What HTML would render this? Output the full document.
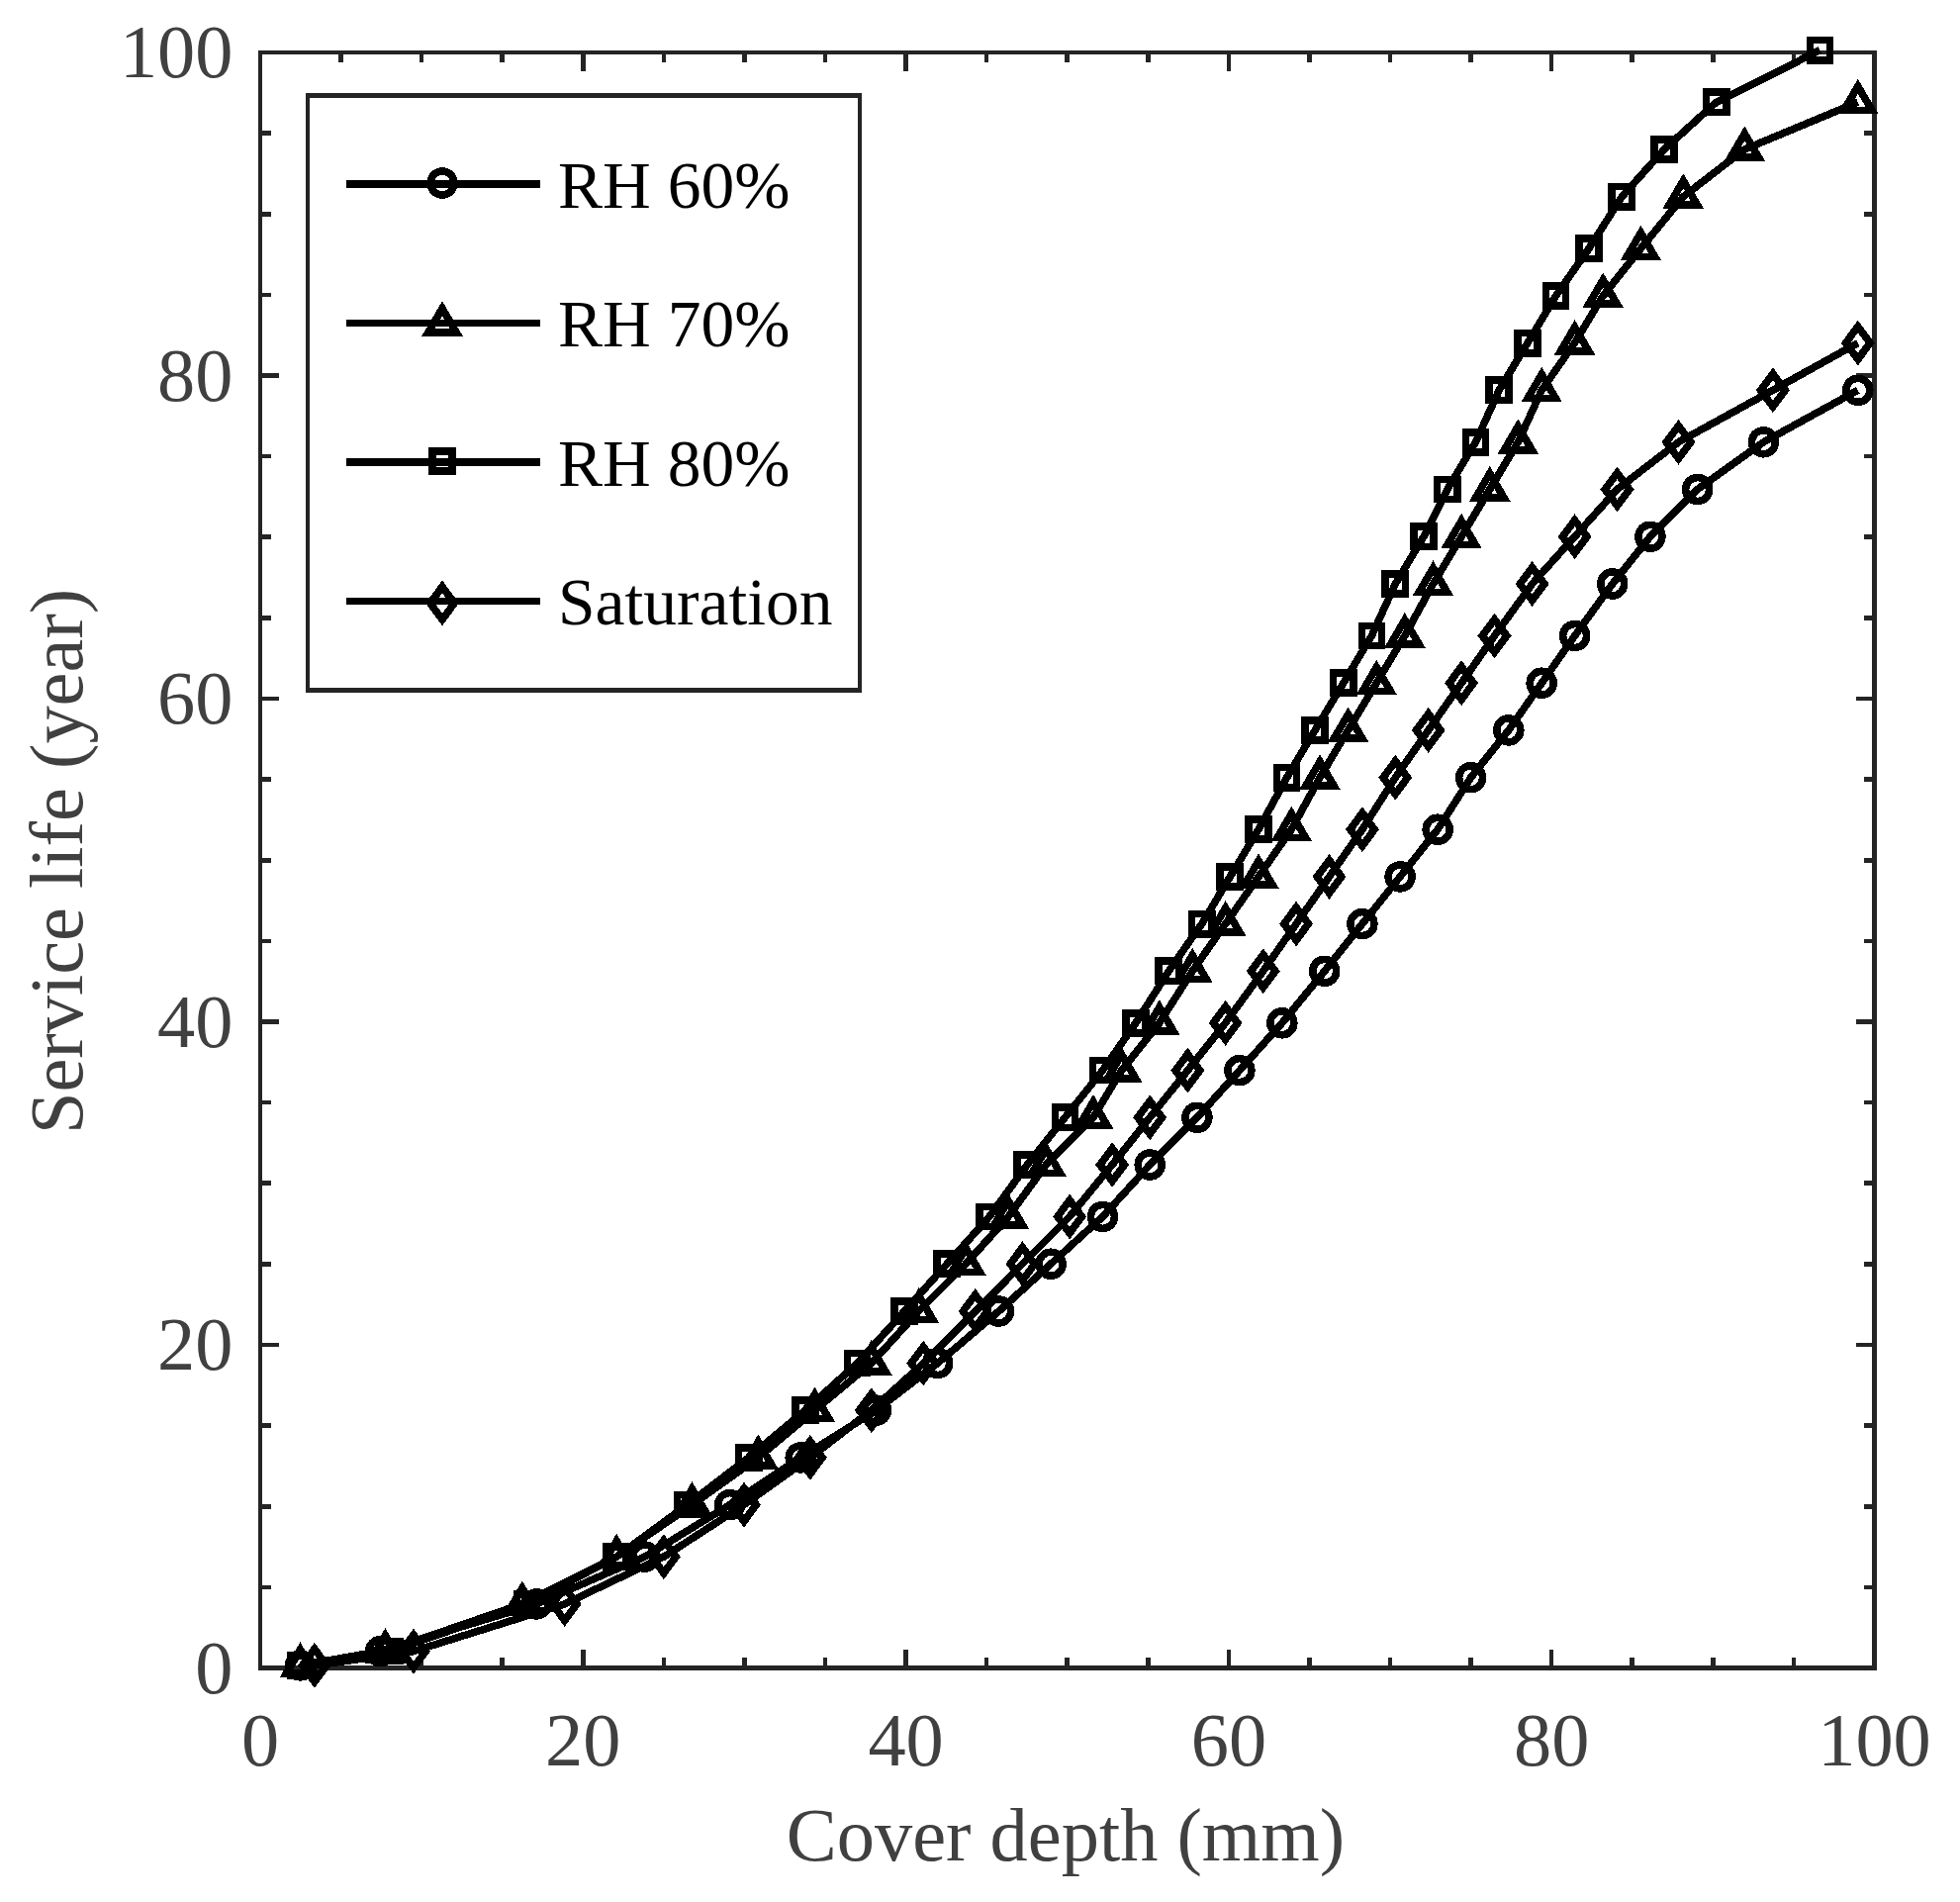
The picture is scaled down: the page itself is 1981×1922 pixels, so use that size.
<!DOCTYPE html>
<html lang="en">
<head>
<meta charset="utf-8">
<title>Service life versus cover depth</title>
<style>
html,body{margin:0;padding:0;background:#fff;}
body{width:1981px;height:1922px;overflow:hidden;}
svg{display:block;}
text{font-family:"Liberation Serif","Times New Roman",Times,serif;}
.tick{font-size:76.4px;fill:#404040;}
.leg{font-size:67.5px;fill:#000;}
</style>
</head>
<body>
<svg width="1981" height="1922" viewBox="0 0 1981 1922">
<rect x="0" y="0" width="1981" height="1922" fill="#ffffff"/>
<path id="axes" shape-rendering="crispEdges" fill="#242424" d="M261 51H265V1688H261ZM1892 51H1897V1688H1892ZM261 51H1897V55H261ZM261 1683H1897V1688H261ZM342 1675H347V1683H342ZM342 55H347V63H342ZM265 1602H274V1606H265ZM1884 1602H1892V1606H1884ZM424 1675H428V1683H424ZM424 55H428V63H424ZM265 1520H274V1525H265ZM1884 1520H1892V1525H1884ZM505 1675H510V1683H505ZM505 55H510V63H505ZM265 1438H274V1443H265ZM1884 1438H1892V1443H1884ZM587 1667H592V1683H587ZM587 55H592V72H587ZM265 1357H282V1361H265ZM1876 1357H1892V1361H1876ZM669 1675H673V1683H669ZM669 55H673V63H669ZM265 1275H274V1280H265ZM1884 1275H1892V1280H1884ZM750 1675H755V1683H750ZM750 55H755V63H750ZM265 1193H274V1198H265ZM1884 1193H1892V1198H1884ZM832 1675H836V1683H832ZM832 55H836V63H832ZM265 1112H274V1116H265ZM1884 1112H1892V1116H1884ZM913 1667H918V1683H913ZM913 55H918V72H913ZM265 1030H282V1035H265ZM1876 1030H1892V1035H1876ZM995 1675H999V1683H995ZM995 55H999V63H995ZM265 949H274V953H265ZM1884 949H1892V953H1884ZM1076 1675H1081V1683H1076ZM1076 55H1081V63H1076ZM265 867H274V872H265ZM1884 867H1892V872H1884ZM1158 1675H1163V1683H1158ZM1158 55H1163V63H1158ZM265 785H274V790H265ZM1884 785H1892V790H1884ZM1240 1667H1244V1683H1240ZM1240 55H1244V72H1240ZM265 704H282V708H265ZM1876 704H1892V708H1876ZM1321 1675H1326V1683H1321ZM1321 55H1326V63H1321ZM265 622H274V627H265ZM1884 622H1892V627H1884ZM1403 1675H1407V1683H1403ZM1403 55H1407V63H1403ZM265 540H274V545H265ZM1884 540H1892V545H1884ZM1484 1675H1489V1683H1484ZM1484 55H1489V63H1484ZM265 459H274V463H265ZM1884 459H1892V463H1884ZM1566 1667H1570V1683H1566ZM1566 55H1570V72H1566ZM265 377H282V382H265ZM1876 377H1892V382H1876ZM1647 1675H1652V1683H1647ZM1647 55H1652V63H1647ZM265 296H274V300H265ZM1884 296H1892V300H1884ZM1729 1675H1734V1683H1729ZM1729 55H1734V63H1729ZM265 214H274V219H265ZM1884 214H1892V219H1884ZM1811 1675H1815V1683H1811ZM1811 55H1815V63H1811ZM265 132H274V137H265ZM1884 132H1892V137H1884Z"/>
<g class="tick">
<text x="263" y="1784" text-anchor="middle">0</text>
<text x="589.3" y="1784" text-anchor="middle">20</text>
<text x="915.6" y="1784" text-anchor="middle">40</text>
<text x="1241.9" y="1784" text-anchor="middle">60</text>
<text x="1568.2" y="1784" text-anchor="middle">80</text>
<text x="1894.5" y="1784" text-anchor="middle">100</text>
<text x="235.5" y="1710.7" text-anchor="end">0</text>
<text x="235.5" y="1384.2" text-anchor="end">20</text>
<text x="235.5" y="1057.7" text-anchor="end">40</text>
<text x="235.5" y="731.2" text-anchor="end">60</text>
<text x="235.5" y="404.7" text-anchor="end">80</text>
<text x="235.5" y="78.2" text-anchor="end">100</text>
<text x="1077" y="1879.6" text-anchor="middle">Cover depth (mm)</text>
<text transform="translate(82.5 870.4) rotate(-90)" text-anchor="middle">Service life (year)</text>
</g>
<g id="data" shape-rendering="crispEdges" fill="none" stroke="#000" stroke-width="7.6" stroke-linejoin="miter" stroke-miterlimit="10">
<g id="rh60">
<polyline points="303.5,1682.9 384.6,1668.6 542.1,1620.9 651.8,1573.1 737.7,1520.6 809.2,1472.9 885.5,1425.2 947.6,1377.5 1009.6,1325 1062.1,1277.2 1114.5,1229.5 1162.2,1177 1209.9,1129.3 1252.9,1081.6 1295.8,1033.8 1338.7,981.3 1376.9,933.6 1415.1,885.9 1453.2,838.2 1486.6,785.7 1524.8,737.9 1558.2,690.2 1591.6,642.5 1629.7,590 1667.9,542.3 1715.6,494.5 1782.4,446.8 1877.8,394.3" stroke-linejoin="round"/>
<circle cx="303.5" cy="1682.9" r="12"/><circle cx="384.6" cy="1668.6" r="12"/><circle cx="542.1" cy="1620.9" r="12"/><circle cx="651.8" cy="1573.1" r="12"/><circle cx="737.7" cy="1520.6" r="12"/><circle cx="809.2" cy="1472.9" r="12"/><circle cx="885.5" cy="1425.2" r="12"/><circle cx="947.6" cy="1377.5" r="12"/><circle cx="1009.6" cy="1325" r="12"/><circle cx="1062.1" cy="1277.2" r="12"/><circle cx="1114.5" cy="1229.5" r="12"/><circle cx="1162.2" cy="1177" r="12"/><circle cx="1209.9" cy="1129.3" r="12"/><circle cx="1252.9" cy="1081.6" r="12"/><circle cx="1295.8" cy="1033.8" r="12"/><circle cx="1338.7" cy="981.3" r="12"/><circle cx="1376.9" cy="933.6" r="12"/><circle cx="1415.1" cy="885.9" r="12"/><circle cx="1453.2" cy="838.2" r="12"/><circle cx="1486.6" cy="785.7" r="12"/><circle cx="1524.8" cy="737.9" r="12"/><circle cx="1558.2" cy="690.2" r="12"/><circle cx="1591.6" cy="642.5" r="12"/><circle cx="1629.7" cy="590" r="12"/><circle cx="1667.9" cy="542.3" r="12"/><circle cx="1715.6" cy="494.5" r="12"/><circle cx="1782.4" cy="446.8" r="12"/><circle cx="1877.8" cy="394.3" r="12"/>
</g>
<g id="rh70">
<polyline points="303.5,1682.9 389.4,1668.6 527.8,1620.9 623.2,1573.1 699.5,1520.6 766.3,1472.9 823.5,1425.2 880.8,1377.5 928.5,1325 976.2,1277.2 1019.1,1229.5 1057.3,1177 1105,1129.3 1133.6,1081.6 1171.8,1033.8 1205.2,981.3 1238.6,933.6 1272,885.9 1305.3,838.2 1334,785.7 1362.6,737.9 1391.2,690.2 1419.8,642.5 1448.5,590 1477.1,542.3 1505.7,494.5 1534.3,446.8 1558.2,394.3 1591.6,346.6 1620.2,298.9 1658.4,251.2 1701.3,198.7 1763.3,150.9 1877.8,103.2" stroke-linejoin="round"/>
<path d="M303.5 1666.9L317.8 1691.2L289.3 1691.2Z"/><path d="M389.4 1652.6L403.7 1676.9L375.2 1676.9Z"/><path d="M527.8 1604.9L542 1629.2L513.5 1629.2Z"/><path d="M623.2 1557.1L637.4 1581.4L608.9 1581.4Z"/><path d="M699.5 1504.6L713.7 1528.9L685.2 1528.9Z"/><path d="M766.3 1456.9L780.5 1481.2L752 1481.2Z"/><path d="M823.5 1409.2L837.8 1433.5L809.3 1433.5Z"/><path d="M880.8 1361.5L895 1385.8L866.5 1385.8Z"/><path d="M928.5 1309L942.7 1333.3L914.2 1333.3Z"/><path d="M976.2 1261.2L990.4 1285.5L961.9 1285.5Z"/><path d="M1019.1 1213.5L1033.4 1237.8L1004.9 1237.8Z"/><path d="M1057.3 1161L1071.5 1185.3L1043 1185.3Z"/><path d="M1105 1113.3L1119.2 1137.6L1090.7 1137.6Z"/><path d="M1133.6 1065.6L1147.9 1089.9L1119.4 1089.9Z"/><path d="M1171.8 1017.8L1186 1042.1L1157.5 1042.1Z"/><path d="M1205.2 965.3L1219.4 989.6L1190.9 989.6Z"/><path d="M1238.6 917.6L1252.8 941.9L1224.3 941.9Z"/><path d="M1272 869.9L1286.2 894.2L1257.7 894.2Z"/><path d="M1305.3 822.2L1319.6 846.5L1291.1 846.5Z"/><path d="M1334 769.7L1348.2 794L1319.7 794Z"/><path d="M1362.6 721.9L1376.8 746.2L1348.3 746.2Z"/><path d="M1391.2 674.2L1405.5 698.5L1377 698.5Z"/><path d="M1419.8 626.5L1434.1 650.8L1405.6 650.8Z"/><path d="M1448.5 574L1462.7 598.3L1434.2 598.3Z"/><path d="M1477.1 526.3L1491.3 550.6L1462.8 550.6Z"/><path d="M1505.7 478.5L1520 502.8L1491.5 502.8Z"/><path d="M1534.3 430.8L1548.6 455.1L1520.1 455.1Z"/><path d="M1558.2 378.3L1572.4 402.6L1543.9 402.6Z"/><path d="M1591.6 330.6L1605.8 354.9L1577.3 354.9Z"/><path d="M1620.2 282.9L1634.4 307.2L1605.9 307.2Z"/><path d="M1658.4 235.2L1672.6 259.5L1644.1 259.5Z"/><path d="M1701.3 182.7L1715.5 207L1687 207Z"/><path d="M1763.3 134.9L1777.6 159.2L1749.1 159.2Z"/><path d="M1877.8 87.2L1892.1 111.5L1863.6 111.5Z"/>
</g>
<g id="rh80">
<polyline points="303.5,1682.9 394.2,1668.6 532.5,1620.9 623.2,1573.1 694.7,1520.6 756.7,1472.9 814,1425.2 866.5,1377.5 914.2,1325 957.1,1277.2 1000,1229.5 1038.2,1177 1076.4,1129.3 1114.5,1081.6 1147.9,1033.8 1181.3,981.3 1214.7,933.6 1243.3,885.9 1272,838.2 1300.6,785.7 1329.2,737.9 1357.8,690.2 1386.4,642.5 1410.3,590 1438.9,542.3 1462.8,494.5 1491.4,446.8 1515.2,394.3 1543.9,346.6 1572.5,298.9 1605.9,251.2 1639.3,198.7 1682.2,150.9 1734.7,103.2 1839.6,50.7" stroke-linejoin="round"/>
<rect x="293.4" y="1672.8" width="20.2" height="20.2"/><rect x="384.1" y="1658.5" width="20.2" height="20.2"/><rect x="522.4" y="1610.8" width="20.2" height="20.2"/><rect x="613.1" y="1563" width="20.2" height="20.2"/><rect x="684.6" y="1510.5" width="20.2" height="20.2"/><rect x="746.6" y="1462.8" width="20.2" height="20.2"/><rect x="803.9" y="1415.1" width="20.2" height="20.2"/><rect x="856.4" y="1367.4" width="20.2" height="20.2"/><rect x="904.1" y="1314.9" width="20.2" height="20.2"/><rect x="947" y="1267.1" width="20.2" height="20.2"/><rect x="989.9" y="1219.4" width="20.2" height="20.2"/><rect x="1028.1" y="1166.9" width="20.2" height="20.2"/><rect x="1066.3" y="1119.2" width="20.2" height="20.2"/><rect x="1104.4" y="1071.5" width="20.2" height="20.2"/><rect x="1137.8" y="1023.7" width="20.2" height="20.2"/><rect x="1171.2" y="971.2" width="20.2" height="20.2"/><rect x="1204.6" y="923.5" width="20.2" height="20.2"/><rect x="1233.2" y="875.8" width="20.2" height="20.2"/><rect x="1261.9" y="828.1" width="20.2" height="20.2"/><rect x="1290.5" y="775.6" width="20.2" height="20.2"/><rect x="1319.1" y="727.8" width="20.2" height="20.2"/><rect x="1347.7" y="680.1" width="20.2" height="20.2"/><rect x="1376.3" y="632.4" width="20.2" height="20.2"/><rect x="1400.2" y="579.9" width="20.2" height="20.2"/><rect x="1428.8" y="532.2" width="20.2" height="20.2"/><rect x="1452.7" y="484.4" width="20.2" height="20.2"/><rect x="1481.3" y="436.7" width="20.2" height="20.2"/><rect x="1505.1" y="384.2" width="20.2" height="20.2"/><rect x="1533.8" y="336.5" width="20.2" height="20.2"/><rect x="1562.4" y="288.8" width="20.2" height="20.2"/><rect x="1595.8" y="241.1" width="20.2" height="20.2"/><rect x="1629.2" y="188.6" width="20.2" height="20.2"/><rect x="1672.1" y="140.8" width="20.2" height="20.2"/><rect x="1724.6" y="93.1" width="20.2" height="20.2"/><rect x="1829.5" y="40.6" width="20.2" height="20.2"/>
</g>
<g id="sat">
<polyline points="317.9,1682.9 418,1668.6 570.7,1620.9 670.9,1573.1 752,1520.6 818.8,1472.9 880.8,1425.2 933.3,1377.5 985.7,1325 1033.4,1277.2 1081.1,1229.5 1124.1,1177 1162.2,1129.3 1200.4,1081.6 1238.6,1033.8 1276.7,981.3 1310.1,933.6 1343.5,885.9 1376.9,838.2 1410.3,785.7 1443.7,737.9 1477.1,690.2 1510.5,642.5 1548.6,590 1591.6,542.3 1634.5,494.5 1696.5,446.8 1791.9,394.3 1877.8,346.6" stroke-linejoin="round"/>
<path d="M317.9 1666.3L330.2 1682.9L317.9 1699.5L305.6 1682.9Z"/><path d="M418 1652L430.3 1668.6L418 1685.2L405.7 1668.6Z"/><path d="M570.7 1604.3L583 1620.9L570.7 1637.5L558.4 1620.9Z"/><path d="M670.9 1556.5L683.2 1573.1L670.9 1589.7L658.6 1573.1Z"/><path d="M752 1504L764.3 1520.6L752 1537.2L739.7 1520.6Z"/><path d="M818.8 1456.3L831.1 1472.9L818.8 1489.5L806.5 1472.9Z"/><path d="M880.8 1408.6L893.1 1425.2L880.8 1441.8L868.5 1425.2Z"/><path d="M933.3 1360.9L945.6 1377.5L933.3 1394.1L921 1377.5Z"/><path d="M985.7 1308.4L998 1325L985.7 1341.6L973.4 1325Z"/><path d="M1033.4 1260.6L1045.7 1277.2L1033.4 1293.8L1021.1 1277.2Z"/><path d="M1081.1 1212.9L1093.4 1229.5L1081.1 1246.1L1068.8 1229.5Z"/><path d="M1124.1 1160.4L1136.4 1177L1124.1 1193.6L1111.8 1177Z"/><path d="M1162.2 1112.7L1174.5 1129.3L1162.2 1145.9L1149.9 1129.3Z"/><path d="M1200.4 1065L1212.7 1081.6L1200.4 1098.2L1188.1 1081.6Z"/><path d="M1238.6 1017.2L1250.9 1033.8L1238.6 1050.4L1226.3 1033.8Z"/><path d="M1276.7 964.7L1289 981.3L1276.7 997.9L1264.4 981.3Z"/><path d="M1310.1 917L1322.4 933.6L1310.1 950.2L1297.8 933.6Z"/><path d="M1343.5 869.3L1355.8 885.9L1343.5 902.5L1331.2 885.9Z"/><path d="M1376.9 821.6L1389.2 838.2L1376.9 854.8L1364.6 838.2Z"/><path d="M1410.3 769.1L1422.6 785.7L1410.3 802.3L1398 785.7Z"/><path d="M1443.7 721.3L1456 737.9L1443.7 754.5L1431.4 737.9Z"/><path d="M1477.1 673.6L1489.4 690.2L1477.1 706.8L1464.8 690.2Z"/><path d="M1510.5 625.9L1522.8 642.5L1510.5 659.1L1498.2 642.5Z"/><path d="M1548.6 573.4L1560.9 590L1548.6 606.6L1536.3 590Z"/><path d="M1591.6 525.7L1603.9 542.3L1591.6 558.9L1579.3 542.3Z"/><path d="M1634.5 477.9L1646.8 494.5L1634.5 511.1L1622.2 494.5Z"/><path d="M1696.5 430.2L1708.8 446.8L1696.5 463.4L1684.2 446.8Z"/><path d="M1791.9 377.7L1804.2 394.3L1791.9 410.9L1779.6 394.3Z"/><path d="M1877.8 330L1890.1 346.6L1877.8 363.2L1865.5 346.6Z"/>
</g>
</g>
<g id="legend" shape-rendering="crispEdges">
<path fill="#fff" d="M309 94H871V700H309Z"/>
<path fill="#242424" d="M309 94H313V700H309ZM867 94H871V700H867ZM309 94H871V99H309ZM309 695H871V700H309Z"/>
<g fill="none" stroke="#000" stroke-width="7.6" stroke-miterlimit="10">
<path d="M350 186H546"/><circle cx="447" cy="185" r="12"/>
<path d="M350 326.4H546"/><path d="M447 311.6L461.2 335.9L432.8 335.9Z"/>
<path d="M350 467H546"/><rect x="436.9" y="455.8" width="20.2" height="20.2"/>
<path d="M350 607.4H546"/><path d="M447 592.8L459.3 609.4L447 626L434.7 609.4Z"/>
</g>
<g class="leg">
<text x="564" y="209.5">RH 60%</text>
<text x="564" y="349.9">RH 70%</text>
<text x="564" y="490.5">RH 80%</text>
<text x="564" y="630.9">Saturation</text>
</g>
</g>
</svg>
</body>
</html>
